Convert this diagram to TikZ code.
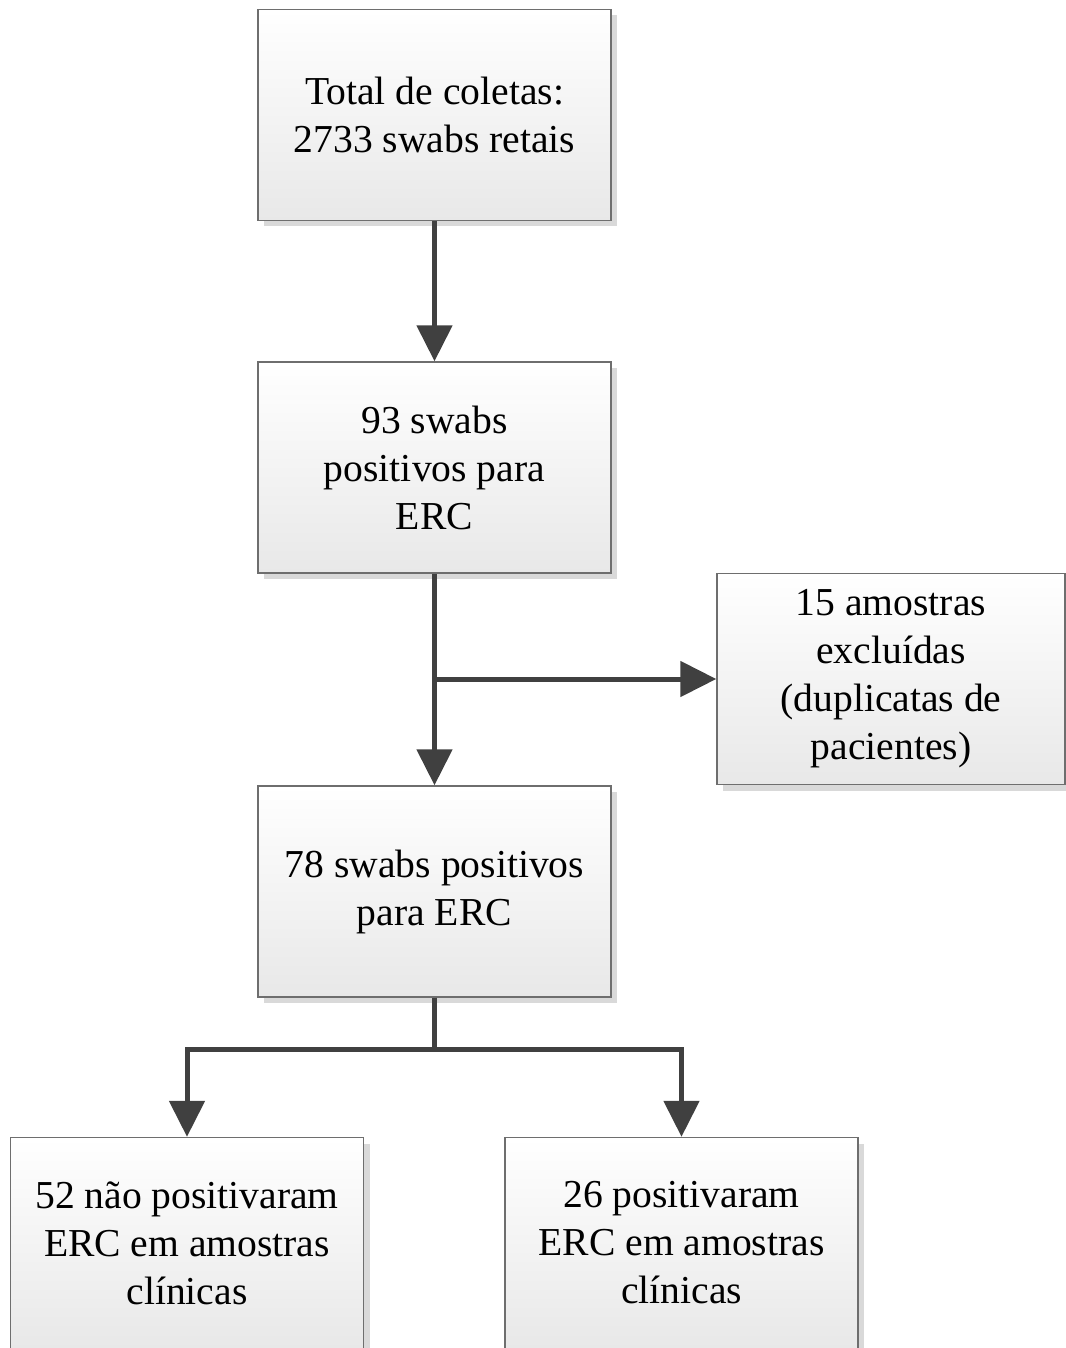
\documentclass[tikz,border=0pt]{standalone}
\usepackage{fontspec}
\setmainfont{Liberation Serif}
\usetikzlibrary{arrows.meta,shadows}
\definecolor{linegray}{HTML}{404040}
\definecolor{boxborder}{HTML}{6E6E6E}

\begin{document}
\begin{tikzpicture}[x=0.5pt,y=-0.5pt,
  box/.style={draw=boxborder, line width=0.7pt, top color=white, bottom color=black!9,
    minimum width=176.5pt, minimum height=105.5pt, align=center, inner sep=0pt,
    font=\fontsize{19.8}{24}\selectfont,
    drop shadow={shadow xshift=3pt, shadow yshift=-3pt, fill=black!15, opacity=1}},
  flow/.style={draw=linegray, line width=2.5pt, -{Triangle[width=17.5pt,length=18pt]}}]
\useasboundingbox (0,0) rectangle (1065,1348);
\node[box] (total) at (434.5,115) {Total de coletas:\\2733 swabs retais};
\node[box] (pos93) at (434.5,467.5) {93 swabs\\positivos para\\ERC};
\node[box, minimum width=174pt] (excl) at (891,679) {15 amostras\\excluídas\\(duplicatas de\\pacientes)};
\node[box] (pos78) at (434.5,891.5) {78 swabs positivos\\para ERC};
\node[box] (neg52) at (187,1243) {52 não positivaram\\ERC em amostras\\clínicas};
\node[box] (pos26) at (681.5,1243) {26 positivaram\\ERC em amostras\\clínicas};
\coordinate (split) at (pos93.south |- excl.west);
\draw[flow] (total) -- (pos93);
\draw[flow] (pos93) -- (pos78);
\draw[flow] (split) -- (excl.west);
\draw[flow] (pos78.south) -- ++(0,52) -| (neg52.north);
\draw[flow] (pos78.south) -- ++(0,52) -| (pos26.north);
\end{tikzpicture}
\end{document}
